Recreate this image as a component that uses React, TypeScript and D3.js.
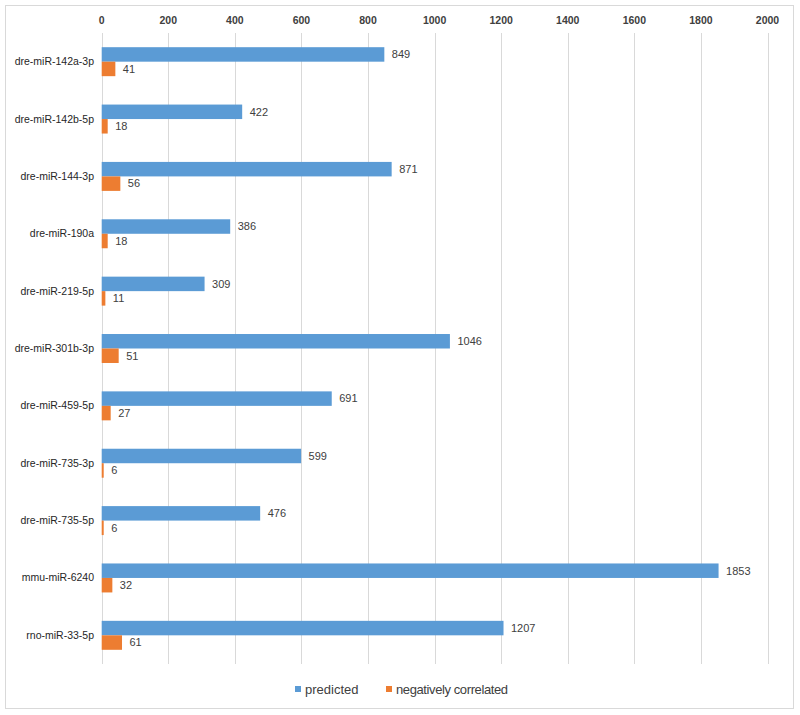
import React from "react";
import * as d3 from "d3";

const categories = [
  "dre-miR-142a-3p",
  "dre-miR-142b-5p",
  "dre-miR-144-3p",
  "dre-miR-190a",
  "dre-miR-219-5p",
  "dre-miR-301b-3p",
  "dre-miR-459-5p",
  "dre-miR-735-3p",
  "dre-miR-735-5p",
  "mmu-miR-6240",
  "rno-miR-33-5p",
];
const predicted = [849, 422, 871, 386, 309, 1046, 691, 599, 476, 1853, 1207];
const negativelyCorrelated = [41, 18, 56, 18, 11, 51, 27, 6, 6, 32, 61];
const seriesNames = ["predicted", "negatively correlated"];
const tickValues = [0, 200, 400, 600, 800, 1000, 1200, 1400, 1600, 1800, 2000];

const W = 800;
const H = 715;
const left = 101.7;
const right = 767.5;
const top = 33;
const bottom = 664;
const colors = ["#5B9BD5", "#ED7D31"];
const font = "'Liberation Sans', Arial, sans-serif";

export default function App() {
  const x = d3.scaleLinear().domain([0, 2000]).range([left, right]);
  const y0 = d3.scaleBand<string>().domain(categories).range([top, bottom]).padding(0);
  const y1 = d3
    .scaleBand<string>()
    .domain(seriesNames)
    .range([0, y0.bandwidth()])
    .paddingInner(0)
    .paddingOuter(0.98);
  const series = [predicted, negativelyCorrelated];

  return (
    <svg
      width={W}
      height={H}
      style={{ position: "absolute", left: 0, top: 0, background: "#fff" }}
      fontFamily={font}
    >
      <rect x={5.5} y={5.5} width={788} height={703} fill="#fff" stroke="#d9d9d9" strokeWidth={1} />
      {tickValues.map((t) => (
        <g key={t}>
          <line
            x1={Math.round(x(t)) + 0.5}
            x2={Math.round(x(t)) + 0.5}
            y1={top}
            y2={bottom}
            stroke="#d9d9d9"
            strokeWidth={1}
          />
          <text
            x={x(t)}
            y={24}
            textAnchor="middle"
            fontSize={10.5}
            fontWeight="bold"
            fill="#404040"
          >
            {t}
          </text>
        </g>
      ))}
      {categories.map((c, i) => (
        <g key={c}>
          <text
            x={94}
            y={(y0(c) as number) + y0.bandwidth() / 2 + 3.5}
            textAnchor="end"
            fontSize={10.5}
            fill="#262626"
          >
            {c}
          </text>
          {series.map((s, j) => {
            const yy = (y0(c) as number) + (y1(seriesNames[j]) as number);
            const h = y1.bandwidth();
            return (
              <g key={j}>
                <rect x={x(0)} y={yy} width={x(s[i]) - x(0)} height={h} fill={colors[j]} />
                <text
                  x={x(s[i]) + 7.5}
                  y={yy + h / 2 + 3.8}
                  fontSize={11}
                  fill="#404040"
                >
                  {s[i]}
                </text>
              </g>
            );
          })}
        </g>
      ))}
      <g>
        <rect x={295} y={686} width={6} height={6} fill={colors[0]} />
        <text x={305} y={693.5} fontSize={13} fill="#404040">
          {seriesNames[0]}
        </text>
        <rect x={386} y={686} width={6} height={6} fill={colors[1]} />
        <text x={396} y={693.5} fontSize={13} fill="#404040" textLength={112}>
          {seriesNames[1]}
        </text>
      </g>
    </svg>
  );
}
